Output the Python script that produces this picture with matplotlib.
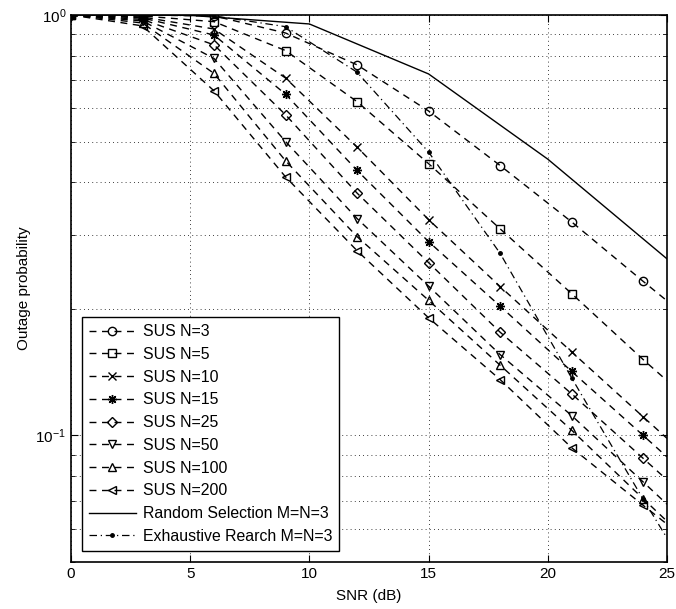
import numpy as np
import matplotlib
matplotlib.use('Agg')
import matplotlib.pyplot as plt
from matplotlib.ticker import LogLocator, NullFormatter

# SNR points (dB)
snr = [0, 3, 6, 9, 12, 15, 18, 21, 24, 25]
snr_rs = [0, 5, 10, 15, 20, 25]

# outage probability of SUS for each number of users N
sus_n3 = [1.0, 0.999, 0.995, 0.906, 0.761, 0.591, 0.4385, 0.322, 0.2325, 0.209]
sus_n5 = [1.0, 0.9945, 0.964, 0.823, 0.622, 0.443, 0.310, 0.2174, 0.1515, 0.135]
sus_n10 = [1.0, 0.989, 0.926, 0.708, 0.485, 0.326, 0.226, 0.158, 0.1107, 0.0984]
sus_n15 = [1.0, 0.984, 0.896, 0.648, 0.427, 0.289, 0.203, 0.142, 0.100, 0.0889]
sus_n25 = [1.0, 0.976, 0.849, 0.579, 0.377, 0.2576, 0.176, 0.1256, 0.0882, 0.0784]
sus_n50 = [1.0, 0.968, 0.788, 0.500, 0.328, 0.2265, 0.1557, 0.1115, 0.0775, 0.0686]
sus_n100 = [1.0, 0.957, 0.726, 0.450, 0.297, 0.2096, 0.1469, 0.1029, 0.0707, 0.0625]
sus_n200 = [1.0, 0.942, 0.660, 0.412, 0.275, 0.1904, 0.1358, 0.0935, 0.0682, 0.0615]

random_sel = [1.0, 0.998, 0.952, 0.724, 0.454, 0.263]
exhaustive = [1.0, 1.0, 0.995, 0.938, 0.731, 0.472, 0.271, 0.137, 0.0705, 0.057]

sus_curves = [sus_n3, sus_n5, sus_n10, sus_n15, sus_n25, sus_n50, sus_n100, sus_n200]
sus_labels = ['SUS N=3', 'SUS N=5', 'SUS N=10', 'SUS N=15', 'SUS N=25',
              'SUS N=50', 'SUS N=100', 'SUS N=200']
markers = ['o', 's', 'x', (8, 2, 0), 'D', 'v', '^', '<']
msizes = [6, 5.5, 5.5, 6.5, 5, 6, 6, 6]

plt.rcParams['font.family'] = ['Liberation Sans', 'DejaVu Sans']
plt.rcParams['font.size'] = 11

fig = plt.figure(figsize=(6.76, 6.09), dpi=100)
ax = fig.add_axes([0.105, 0.0772, 0.8817, 0.8982])

marks = slice(0, 9)
for y, lab, m, ms in zip(sus_curves, sus_labels, markers, msizes):
    ax.plot(snr, y, color='k', ls=(0, (5, 4)), lw=1.0, marker=m,
            markersize=ms, markerfacecolor='none',
            markeredgecolor='k', markeredgewidth=1.0, markevery=marks, label=lab)

ax.plot(snr_rs, random_sel, color='k', ls='-', lw=1.0,
        label='Random Selection M=N=3')
ax.plot(snr, exhaustive, color='k', ls=(0, (6, 3, 1, 3)), lw=0.9, marker='.',
        markersize=5, markevery=marks, label='Exhaustive Rearch M=N=3')

ax.set_yscale('log')
ax.set_xlim(0, 25)
ax.set_ylim(0.05, 1)
ax.set_xticks([0, 5, 10, 15, 20, 25])
ax.yaxis.set_major_locator(LogLocator(base=10, numticks=10))
ax.yaxis.set_minor_locator(LogLocator(base=10, subs=np.arange(2, 10), numticks=20))
ax.yaxis.set_minor_formatter(NullFormatter())

ax.grid(True, which='major', ls=(0, (1, 4)), color='k', lw=0.6)
ax.grid(True, which='minor', axis='y', ls=(0, (1, 4)), color='k', lw=0.6)

ax.tick_params(which='both', direction='in', top=True, right=True)
ax.tick_params(which='major', length=5)
ax.tick_params(which='minor', length=3)
for sp in ax.spines.values():
    sp.set_linewidth(1.2)

ax.set_xlabel('SNR (dB)', labelpad=6)
ax.set_ylabel('Outage probability', labelpad=3)

leg = ax.legend(loc='lower left', bbox_to_anchor=(0.0185, 0.020), borderaxespad=0,
                numpoints=1, handlelength=2.95, fancybox=False, framealpha=1,
                edgecolor='k', borderpad=0.45, labelspacing=0.49,
                handletextpad=0.44, fontsize=11.4)
leg.get_frame().set_linewidth(1.0)

fig.savefig('out.png', dpi=100)
